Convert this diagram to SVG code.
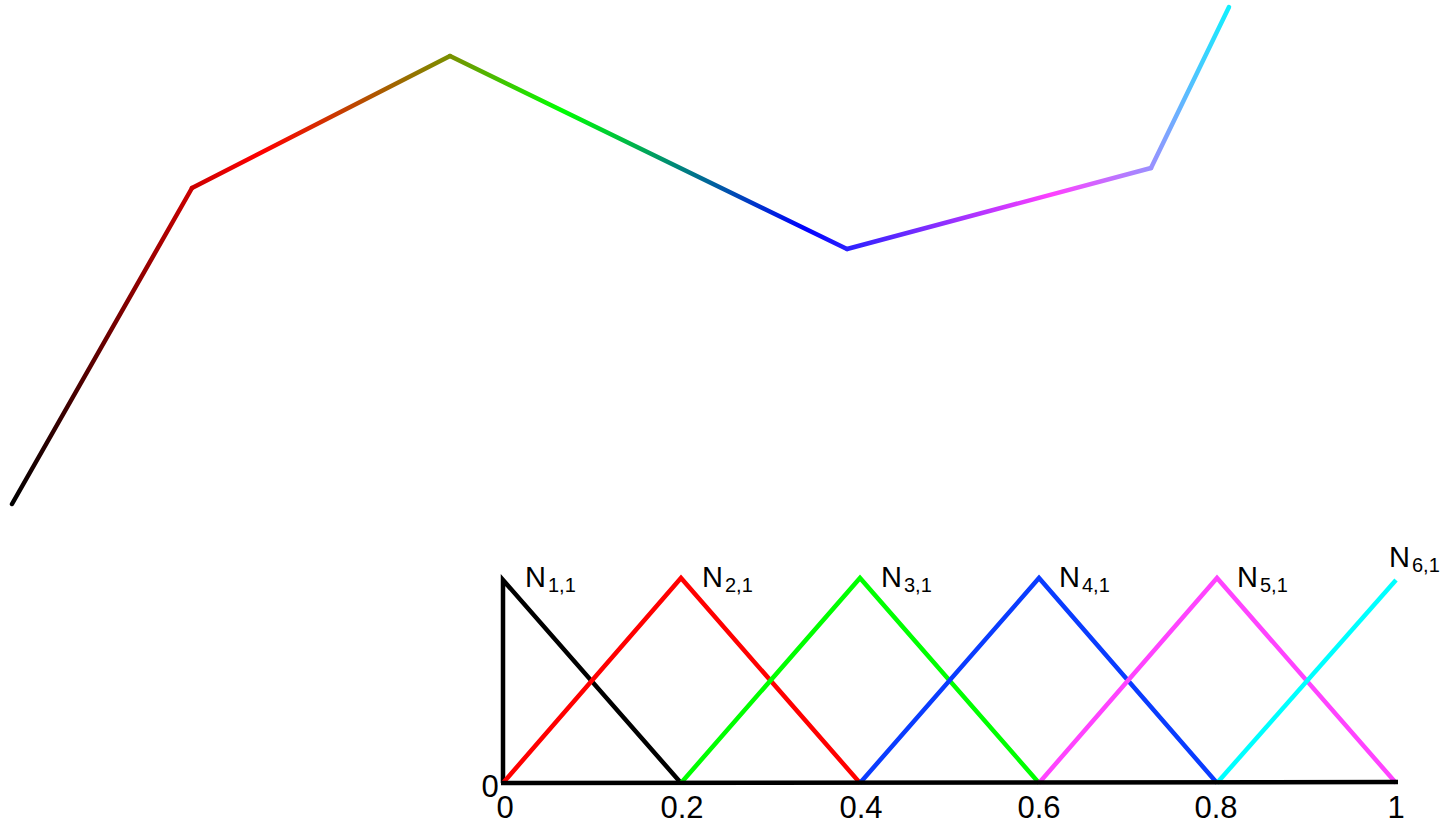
<svg xmlns="http://www.w3.org/2000/svg" width="1456" height="825" viewBox="0 0 1456 825">
<style>
.seg{fill:none;stroke-width:4.5;stroke-linecap:round}
.bas{fill:none;stroke-width:4.5;stroke-linejoin:miter}
.lbl{font-family:"Liberation Sans",Arial,sans-serif;font-size:29px;fill:#000}
.sub{font-size:20px}
.tick{font-family:"Liberation Sans",Arial,sans-serif;font-size:31px;fill:#000;text-anchor:middle}
</style>
<defs>
<linearGradient id="g1" gradientUnits="userSpaceOnUse" x1="12" y1="504" x2="192" y2="188">
<stop offset="0" stop-color="#000000"/><stop offset="1" stop-color="#cc0000"/>
</linearGradient>
<linearGradient id="g2" gradientUnits="userSpaceOnUse" x1="192" y1="188" x2="450" y2="56">
<stop offset="0" stop-color="#cc0000"/><stop offset="0.27" stop-color="#ff0000"/><stop offset="1" stop-color="#7a9000"/>
</linearGradient>
<linearGradient id="g3" gradientUnits="userSpaceOnUse" x1="450" y1="56" x2="847" y2="249">
<stop offset="0" stop-color="#7a9000"/><stop offset="0.28" stop-color="#00ff00"/><stop offset="0.895" stop-color="#0000ff"/><stop offset="1" stop-color="#2b20ff"/>
</linearGradient>
<linearGradient id="g4" gradientUnits="userSpaceOnUse" x1="847" y1="249" x2="1151" y2="168">
<stop offset="0" stop-color="#2b20ff"/><stop offset="0.675" stop-color="#ff40ff"/><stop offset="1" stop-color="#9a90ff"/>
</linearGradient>
<linearGradient id="g5" gradientUnits="userSpaceOnUse" x1="1151" y1="168" x2="1229" y2="7">
<stop offset="0" stop-color="#9a90ff"/><stop offset="1" stop-color="#10f0ff"/>
</linearGradient>
</defs>

<g id="curve">
<line class="seg" x1="12" y1="504" x2="192" y2="188" stroke="url(#g1)"/>
<line class="seg" x1="192" y1="188" x2="450" y2="56" stroke="url(#g2)"/>
<line class="seg" x1="450" y1="56" x2="847" y2="249" stroke="url(#g3)"/>
<line class="seg" x1="847" y1="249" x2="1151" y2="168" stroke="url(#g4)"/>
<line class="seg" x1="1151" y1="168" x2="1229" y2="7" stroke="url(#g5)"/>
</g>

<g id="basis">
<polyline class="bas" stroke="#000000" points="503,783 503,580 681,783"/>
<polyline class="bas" stroke="#ff0000" points="503,783 681,578 860,783"/>
<polyline class="bas" stroke="#00ff00" points="681,783 860,578 1039,783"/>
<polyline class="bas" stroke="#0a3cff" points="860,783 1039,578 1217,783"/>
<polyline class="bas" stroke="#ff44ff" points="1039,783 1217,578 1396,783"/>
<polyline class="bas" stroke="#00ffff" points="1217,783 1396,580"/>
<line x1="501" y1="783" x2="1398" y2="782" stroke="#000" stroke-width="4.5"/>
</g>

<g id="labels">
<text class="lbl" x="525" y="587">N<tspan class="sub" dx="2" dy="5">1,1</tspan></text>
<text class="lbl" x="702" y="587">N<tspan class="sub" dx="2" dy="5">2,1</tspan></text>
<text class="lbl" x="881" y="587">N<tspan class="sub" dx="2" dy="5">3,1</tspan></text>
<text class="lbl" x="1059" y="587">N<tspan class="sub" dx="2" dy="5">4,1</tspan></text>
<text class="lbl" x="1237" y="587">N<tspan class="sub" dx="2" dy="5">5,1</tspan></text>
<text class="lbl" x="1389" y="567">N<tspan class="sub" dx="2" dy="5">6,1</tspan></text>
<text class="tick" x="490" y="797">0</text>
<text class="tick" x="505" y="818">0</text>
<text class="tick" x="682" y="818">0.2</text>
<text class="tick" x="861" y="818">0.4</text>
<text class="tick" x="1039" y="818">0.6</text>
<text class="tick" x="1216" y="818">0.8</text>
<text class="tick" x="1396" y="818">1</text>
</g>
</svg>
